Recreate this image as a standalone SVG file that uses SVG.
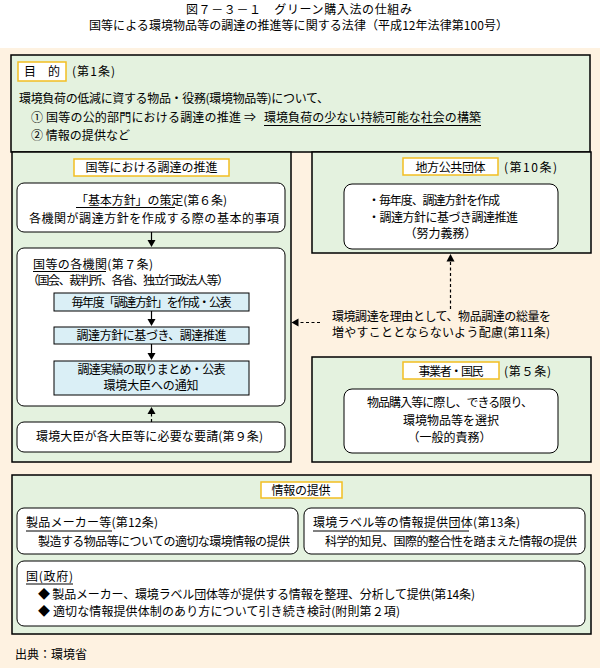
<svg xmlns="http://www.w3.org/2000/svg" width="600" height="668" viewBox="0 0 600 668">
<style>
text{font-family:"Noto Sans CJK JP","Noto Sans CJK SC",sans-serif;font-size:12px;fill:#000}
.c{text-anchor:middle}
.panel{fill:#E4F2DF;stroke:#000;stroke-width:1.5}
.label{fill:#fff;stroke:#F2BE22;stroke-width:1.5}
.rbox{fill:#fff;stroke:#000;stroke-width:1}
.bbox{fill:#DAEFF6;stroke:#000;stroke-width:1}
.ul{stroke:#000;stroke-width:1}
.conn{stroke:#000;stroke-width:1.2;fill:none}
.dash{stroke-dasharray:3,2.5}
.head{fill:#000}
</style>
<rect x="0" y="0" width="600" height="668" fill="#fff"/>
<rect x="0" y="48" width="600" height="620" fill="#FEF2E1"/>

<g id="title">
<text class="c" x="299" y="14" textLength="226">図７－３－１　グリーン購入法の仕組み</text>
<text class="c" x="298.5" y="30" textLength="419">国等による環境物品等の調達の推進等に関する法律（平成12年法律第100号）</text>
</g>

<g id="purpose">
<rect class="panel" x="11" y="55" width="579" height="97"/>
<rect class="label" x="18" y="62" width="48" height="19"/>
<text class="c" x="42" y="76">目　的</text>
<text x="72" y="76" textLength="43">(第1条)</text>
<text x="19" y="103" textLength="310">環境負荷の低減に資する物品・役務(環境物品等)について、</text>
<text x="31" y="122" textLength="225">① 国等の公的部門における調達の推進 ⇒</text>
<text x="264" y="122" textLength="217">環境負荷の少ない持続可能な社会の構築</text>
<line class="ul" x1="264" y1="125.5" x2="481" y2="125.5"/>
<text x="31" y="140" textLength="99">② 情報の提供など</text>
</g>

<g id="national">
<rect class="panel" x="12" y="152" width="279" height="310"/>
<rect class="label" x="74" y="159" width="155" height="17"/>
<text class="c" x="151.5" y="172" textLength="132">国等における調達の推進</text>
</g>

<g id="basic-policy">
<rect class="rbox" x="17" y="183" width="268" height="49" rx="7"/>
<text x="76" y="205" textLength="151">「基本方針」の策定(第６条)</text>
<line class="ul" x1="76" y1="207.5" x2="175" y2="207.5"/>
<text x="29" y="223" textLength="250">各機関が調達方針を作成する際の基本的事項</text>
</g>

<g id="agencies">
<rect class="rbox" x="17" y="248" width="268" height="158" rx="7"/>
<text x="33" y="269" textLength="120">国等の各機関(第７条)</text>
<line class="ul" x1="33" y1="271.5" x2="106" y2="271.5"/>
<text x="27" y="285" textLength="202">（国会、裁判所、各省、独立行政法人等）</text>
</g>

<g id="step1">
<rect class="bbox" x="54" y="293" width="195" height="18"/>
<text class="c" x="151.5" y="306.5" textLength="160">毎年度「調達方針」を作成・公表</text>
</g>
<g id="step2">
<rect class="bbox" x="54" y="327" width="195" height="17"/>
<text class="c" x="151.5" y="340" textLength="150">調達方針に基づき、調達推進</text>
</g>
<g id="step3">
<rect class="bbox" x="54" y="361" width="195" height="34"/>
<text class="c" x="151.5" y="373.5" textLength="148">調達実績の取りまとめ・公表</text>
<text class="c" x="151" y="390" textLength="95">環境大臣への通知</text>
</g>

<g id="minister-request">
<rect class="rbox" x="17" y="422" width="268" height="30" rx="7"/>
<text x="36" y="441" textLength="227">環境大臣が各大臣等に必要な要請(第９条)</text>
</g>

<g id="local">
<rect class="panel" x="312" y="152" width="279" height="101"/>
<rect class="label" x="403" y="158" width="95" height="17"/>
<text class="c" x="450.5" y="171.5" textLength="70">地方公共団体</text>
<text x="504" y="171.5" textLength="53">(第10条)</text>
<rect class="rbox" x="344" y="184" width="214" height="65" rx="8"/>
<text x="368" y="205" textLength="132">・毎年度、調達方針を作成</text>
<text x="368" y="222" textLength="150">・調達方針に基づき調達推進</text>
<text class="c" x="440.5" y="238">（努力義務）</text>
</g>

<g id="note11">
<text x="332" y="321" textLength="219">環境調達を理由として、物品調達の総量を</text>
<text x="332" y="337" textLength="218">増やすこととならないよう配慮(第11条)</text>
</g>

<g id="business">
<rect class="panel" x="312" y="357" width="279" height="105"/>
<rect class="label" x="403" y="362" width="96" height="17"/>
<text class="c" x="451" y="375.5" textLength="65">事業者・国民</text>
<text x="504" y="375.5" textLength="47">(第５条)</text>
<rect class="rbox" x="344" y="389" width="214" height="64" rx="8"/>
<text class="c" x="450" y="407" textLength="166">物品購入等に際し、できる限り、</text>
<text class="c" x="451" y="425" textLength="96">環境物品等を選択</text>
<text class="c" x="449.5" y="442">（一般的責務）</text>
</g>

<g id="info">
<rect class="panel" x="12" y="475" width="579" height="159"/>
<rect class="label" x="261" y="482" width="81" height="16"/>
<text class="c" x="301" y="494.5" textLength="59">情報の提供</text>
</g>
<g id="makers">
<rect class="rbox" x="17" y="508" width="281" height="46" rx="7"/>
<text x="26" y="527" textLength="132">製品メーカー等(第12条)</text>
<line class="ul" x1="26" y1="531" x2="112" y2="531"/>
<text x="38" y="546" textLength="252">製造する物品等についての適切な環境情報の提供</text>
</g>
<g id="label-orgs">
<rect class="rbox" x="304" y="508" width="281" height="46" rx="7"/>
<text x="313" y="527" textLength="207">環境ラベル等の情報提供団体(第13条)</text>
<line class="ul" x1="313" y1="531" x2="469" y2="531"/>
<text x="325" y="546" textLength="252">科学的知見、国際的整合性を踏まえた情報の提供</text>
</g>
<g id="government">
<rect class="rbox" x="17" y="561" width="568" height="65" rx="7"/>
<text x="26" y="581" textLength="47">国(政府)</text>
<line class="ul" x1="26" y1="584" x2="73" y2="584"/>
<text x="38" y="599" textLength="437">◆ 製品メーカー、環境ラベル団体等が提供する情報を整理、分析して提供(第14条)</text>
<text x="38" y="616" textLength="362">◆ 適切な情報提供体制のあり方について引き続き検討(附則第２項)</text>
</g>

<g id="connectors">
<line class="conn" x1="151.5" y1="232" x2="151.5" y2="241"/>
<polygon class="head" points="147.5,240 155.5,240 151.5,247"/>
<line class="conn" x1="151.5" y1="311" x2="151.5" y2="320"/>
<polygon class="head" points="147.5,319 155.5,319 151.5,326"/>
<line class="conn" x1="151.5" y1="344" x2="151.5" y2="354"/>
<polygon class="head" points="147.5,353 155.5,353 151.5,360"/>
<line class="conn dash" x1="151.5" y1="422" x2="151.5" y2="413"/>
<polygon class="head" points="147.5,414 155.5,414 151.5,407"/>
<line class="conn dash" x1="450.5" y1="309" x2="450.5" y2="261"/>
<polygon class="head" points="446.5,261.5 454.5,261.5 450.5,254"/>
<line class="conn dash" x1="320" y1="322.5" x2="298" y2="322.5"/>
<polygon class="head" points="298.5,318.5 298.5,326.5 291.5,322.5"/>
</g>

<text x="15" y="659" textLength="72">出典：環境省</text>
</svg>
